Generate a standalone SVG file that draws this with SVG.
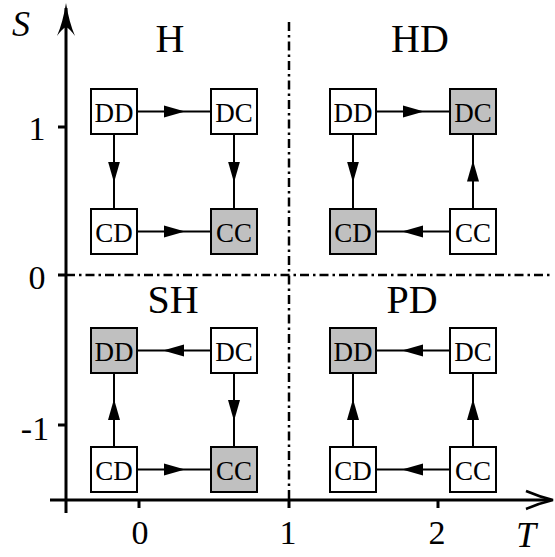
<svg xmlns="http://www.w3.org/2000/svg" width="555" height="557" viewBox="0 0 555 557">
<style>
.box{stroke:#000;stroke-width:2;fill:#fff}
.g{fill:#c0c0c0}
.nt{font-family:"Liberation Serif",serif;font-size:27px;text-anchor:middle;fill:#000}
.lb{font-family:"Liberation Serif",serif;font-size:40px;text-anchor:middle;fill:#000}
.tk{font-family:"Liberation Serif",serif;font-size:34px;text-anchor:middle;fill:#000}
.ax{font-family:"Liberation Serif",serif;font-size:36px;font-style:italic;fill:#000}
.edge{stroke:#000;stroke-width:2;fill:none;marker-mid:url(#ah)}
.axis{stroke:#000;stroke-width:3;fill:none}
.dd{stroke:#000;stroke-width:2.5;fill:none;stroke-dasharray:9 4 2.5 4}
</style>
<defs>
<marker id="ah" markerUnits="userSpaceOnUse" markerWidth="21" markerHeight="13" refX="10" refY="6.5" orient="auto">
<path d="M0,0.5 L21,6.5 L0,12.5 z" fill="#000"/>
</marker>
</defs>
<g id="axes">
<line class="dd" x1="66" y1="275" x2="553" y2="275"/>
<line class="dd" x1="289" y1="22" x2="289" y2="500"/>
<line class="axis" x1="66" y1="513" x2="66" y2="8"/>
<line class="axis" x1="50" y1="500" x2="550" y2="500"/>
<path d="M66,3 Q63,22 57,36 Q62,29 66,27 Q70,29 75,36 Q69,22 66,3 Z" fill="#000"/>
<path d="M526,491 Q540,497 553,500 Q540,503 526,509" fill="none" stroke="#000" stroke-width="2.5"/>
<path d="M58,127 H66 M58,275 H66 M58,425 H66 M139,500 V508 M289,500 V508 M438,500 V508" stroke="#000" stroke-width="3"/>
<text class="tk" x="37" y="140">1</text>
<text class="tk" x="37" y="289">0</text>
<text class="tk" x="35" y="440">-1</text>
<text class="tk" x="140" y="544">0</text>
<text class="tk" x="288" y="544">1</text>
<text class="tk" x="437" y="544">2</text>
<text class="ax" x="12" y="36">S</text>
<text class="ax" x="516" y="547">T</text>
</g>
<g id="labels">
<text class="lb" x="170" y="52">H</text>
<text class="lb" x="420" y="52">HD</text>
<text class="lb" x="173" y="313">SH</text>
<text class="lb" x="412" y="313">PD</text>
</g>
<g id="connectors">
<path class="edge" d="M137,111.5 L174,111.5 L211,111.5"/>
<path class="edge" d="M114,134 L114,171.5 L114,209"/>
<path class="edge" d="M234,134 L234,171.5 L234,209"/>
<path class="edge" d="M137,231.5 L174,231.5 L211,231.5"/>
<path class="edge" d="M376,111.5 L413,111.5 L450,111.5"/>
<path class="edge" d="M353,134 L353,171.5 L353,209"/>
<path class="edge" d="M473,209 L473,171.5 L473,134"/>
<path class="edge" d="M450,231.5 L413,231.5 L376,231.5"/>
<path class="edge" d="M211,350.5 L174,350.5 L137,350.5"/>
<path class="edge" d="M114,447 L114,410 L114,373"/>
<path class="edge" d="M234,373 L234,410 L234,447"/>
<path class="edge" d="M137,469.5 L174,469.5 L211,469.5"/>
<path class="edge" d="M450,350.5 L413,350.5 L376,350.5"/>
<path class="edge" d="M353,447 L353,410 L353,373"/>
<path class="edge" d="M473,447 L473,410 L473,373"/>
<path class="edge" d="M450,469.5 L413,469.5 L376,469.5"/>
</g>
<g id="H_DD"><rect class="box" x="91" y="89" width="46" height="45"/><text class="nt" x="114" y="122">DD</text></g>
<g id="H_DC"><rect class="box" x="211" y="89" width="46" height="45"/><text class="nt" x="234" y="122">DC</text></g>
<g id="H_CD"><rect class="box" x="91" y="209" width="46" height="45"/><text class="nt" x="114" y="242">CD</text></g>
<g id="H_CC"><rect class="box g" x="211" y="209" width="46" height="45"/><text class="nt" x="234" y="242">CC</text></g>
<g id="HD_DD"><rect class="box" x="330" y="89" width="46" height="45"/><text class="nt" x="353" y="122">DD</text></g>
<g id="HD_DC"><rect class="box g" x="450" y="89" width="46" height="45"/><text class="nt" x="473" y="122">DC</text></g>
<g id="HD_CD"><rect class="box g" x="330" y="209" width="46" height="45"/><text class="nt" x="353" y="242">CD</text></g>
<g id="HD_CC"><rect class="box" x="450" y="209" width="46" height="45"/><text class="nt" x="473" y="242">CC</text></g>
<g id="SH_DD"><rect class="box g" x="91" y="328" width="46" height="45"/><text class="nt" x="114" y="361">DD</text></g>
<g id="SH_DC"><rect class="box" x="211" y="328" width="46" height="45"/><text class="nt" x="234" y="361">DC</text></g>
<g id="SH_CD"><rect class="box" x="91" y="447" width="46" height="45"/><text class="nt" x="114" y="480">CD</text></g>
<g id="SH_CC"><rect class="box g" x="211" y="447" width="46" height="45"/><text class="nt" x="234" y="480">CC</text></g>
<g id="PD_DD"><rect class="box g" x="330" y="328" width="46" height="45"/><text class="nt" x="353" y="361">DD</text></g>
<g id="PD_DC"><rect class="box" x="450" y="328" width="46" height="45"/><text class="nt" x="473" y="361">DC</text></g>
<g id="PD_CD"><rect class="box" x="330" y="447" width="46" height="45"/><text class="nt" x="353" y="480">CD</text></g>
<g id="PD_CC"><rect class="box" x="450" y="447" width="46" height="45"/><text class="nt" x="473" y="480">CC</text></g>
</svg>
